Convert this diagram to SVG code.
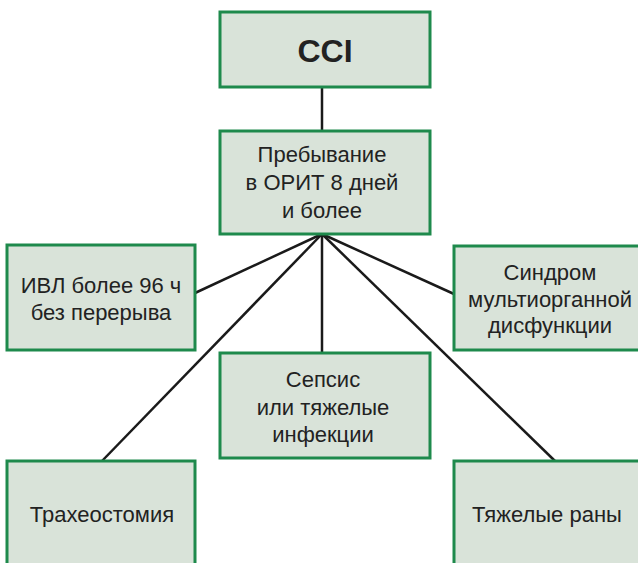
<svg xmlns="http://www.w3.org/2000/svg" width="638" height="563" viewBox="0 0 638 563">
<style>
.box{fill:#d9e3d9;stroke:#1e8a4c;stroke-width:3}
.t{font-family:"Liberation Sans",Arial,Helvetica,sans-serif;font-size:22px;fill:#222;text-anchor:middle}
.b{font-weight:bold;font-size:32px}
.c{stroke:#1a1a1a;stroke-width:2.5;fill:none}
</style>
<rect width="638" height="563" fill="#fff"/>
<g id="connectors" class="c">
<line x1="322" y1="87" x2="322" y2="131"/>
<line x1="322" y1="234" x2="195" y2="293"/>
<line x1="322" y1="234" x2="454" y2="294"/>
<line x1="322" y1="234" x2="322" y2="353"/>
<line x1="322" y1="234" x2="102" y2="461"/>
<line x1="322" y1="234" x2="555" y2="461"/>
</g>
<g id="cci"><rect class="box" x="220" y="12" width="210" height="75"/><text class="t b" x="325" y="62">CCI</text></g>
<g id="orit"><rect class="box" x="220" y="131" width="210" height="103"/><text class="t" x="322" y="162">Пребывание</text><text class="t" x="322" y="190">в ОРИТ 8 дней</text><text class="t" x="322" y="218">и более</text></g>
<g id="ivl"><rect class="box" x="7" y="245" width="188" height="105"/><text class="t" x="101" y="293">ИВЛ более 96 ч</text><text class="t" x="101" y="320">без перерыва</text></g>
<g id="smod"><rect class="box" x="454" y="246" width="190" height="104"/><text class="t" x="550" y="280">Синдром</text><text class="t" x="550" y="307">мультиорганной</text><text class="t" x="550" y="333">дисфункции</text></g>
<g id="sepsis"><rect class="box" x="220" y="353" width="210" height="105"/><text class="t" x="323" y="387">Сепсис</text><text class="t" x="323" y="415">или тяжелые</text><text class="t" x="323" y="442">инфекции</text></g>
<g id="trach"><rect class="box" x="7" y="461" width="188" height="110"/><text class="t" x="102" y="522">Трахеостомия</text></g>
<g id="wounds"><rect class="box" x="454" y="461" width="190" height="110"/><text class="t" x="547" y="522">Тяжелые раны</text></g>
</svg>
